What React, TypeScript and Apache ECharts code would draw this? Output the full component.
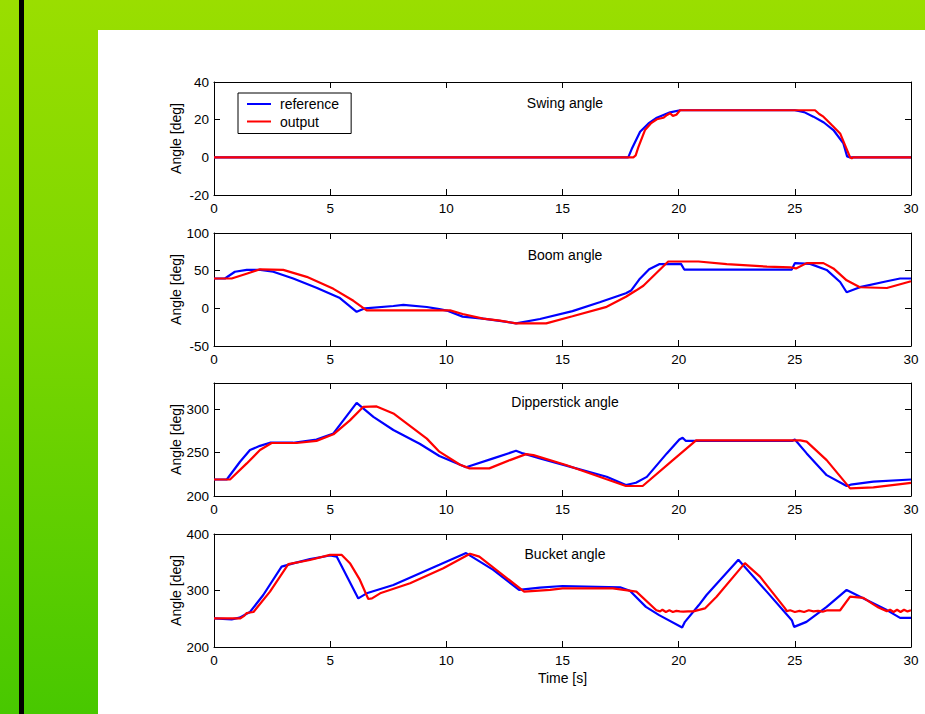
import React, { useEffect, useRef } from "react";
import * as echarts from "echarts";

const FONT = '"Liberation Sans", Arial, Helvetica, sans-serif';

const plotTitles = ["Swing angle", "Boom angle", "Dipperstick angle", "Bucket angle"];
const seriesNames = ["reference", "output"];
const xLabel = "Time [s]";
const yLabel = "Angle [deg]";
const xRange = [0, 30, 5];
const yRanges = [
  [-20, 40, 20],
  [-50, 100, 50],
  [200, 330, 50],
  [200, 400, 100],
];

const swingReference = [
  [0, 0], [17.83, 0], [18.0, 5], [18.34, 13.6], [18.7, 18], [19.06, 21], [19.63, 23.9], [20.06, 25],
  [25.0, 25], [25.4, 24], [25.8, 21.6], [26.25, 18.5], [26.66, 14.5], [27.09, 7.4], [27.25, 0.5],
  [27.35, 0], [30, 0],
];
const swingOutput = [
  [0, 0], [18.05, 0], [18.15, 1], [18.27, 5.6], [18.55, 14.5], [18.8, 18], [19.06, 20.2], [19.34, 21],
  [19.5, 22.5], [19.63, 23.4], [19.75, 22], [19.9, 22.6], [20.06, 25], [25.87, 25], [26.05, 23],
  [26.23, 21.6], [26.6, 17], [26.95, 12.7], [27.16, 6.5], [27.38, 0], [27.45, -0.5], [27.5, 0], [30, 0],
];

const boomReference = [
  [0, 39.6], [0.47, 39.6], [0.9, 48.6], [1.41, 51], [2.0, 51], [2.55, 48.6], [3.41, 39.6], [4.41, 27.3],
  [5.42, 13.6], [6.14, -4.6], [6.5, 0], [7.72, 3.1], [8.15, 4.5], [9.16, 1.8], [9.7, -1], [10.02, -3],
  [10.7, -11], [11.58, -13.6], [12.45, -17.3], [13.0, -20], [14.03, -14.2], [15.43, -3.7], [16.6, 8],
  [17.73, 20], [17.95, 23.6], [18.3, 38.2], [18.73, 51.8], [19.16, 58.6], [20.1, 59], [20.24, 51.5],
  [24.87, 51.5], [25.0, 60], [25.66, 59], [26.37, 51], [26.95, 35], [27.23, 21.3], [27.8, 28.1],
  [28.96, 35.9], [29.53, 39.6], [30, 39.6],
];
const boomOutput = [
  [0, 39.6], [0.76, 39.6], [1.4, 46], [1.98, 51.8], [2.98, 51], [3.99, 41.8], [5.14, 25.9], [6.0, 10],
  [6.57, -2.7], [10.16, -2.7], [10.7, -7.5], [11.58, -13.6], [12.31, -16.3], [13.0, -20], [14.3, -20],
  [15.43, -10.5], [16.9, 2], [17.73, 15.4], [18.16, 23.6], [18.48, 30], [19.55, 62.2], [20.85, 62.2],
  [22.07, 58.6], [23.8, 55.4], [24.8, 54.5], [25.05, 53], [25.51, 60], [26.23, 60], [26.66, 53],
  [27.23, 37.2], [27.8, 28], [28.96, 27], [30, 36],
];

const dipperReference = [
  [0, 219], [0.55, 219], [1.12, 239.4], [1.55, 252.9], [1.98, 257.7], [2.41, 261.3], [3.41, 261.3],
  [4.41, 265], [5.14, 272], [6.14, 307.2], [6.86, 291], [7.72, 275.9], [8.87, 259.8], [9.7, 246],
  [10.85, 233], [12.02, 243.3], [13.0, 252], [13.3, 249], [14.03, 243.3], [15.43, 233], [16.9, 222.2],
  [17.73, 212.6], [18.16, 215.3], [18.63, 222], [19.49, 249], [20.03, 265], [20.17, 267], [20.3, 263.5],
  [24.9, 263.5], [25.0, 265], [25.51, 249], [26.37, 224], [27.23, 211.5], [27.4, 213], [28.38, 216.5],
  [30, 219],
];
const dipperOutput = [
  [0, 219], [0.69, 219], [1.41, 237.5], [1.98, 252.9], [2.48, 261], [3.55, 261], [4.41, 263.4],
  [5.14, 271], [5.85, 287], [6.43, 302.6], [7.0, 303], [7.72, 295], [9.16, 266], [9.7, 251],
  [10.59, 236], [11.0, 231.8], [11.85, 231.8], [12.74, 241.3], [13.43, 248.2], [13.75, 247],
  [15.15, 235.6], [16.87, 219.5], [17.73, 211.5], [18.45, 211.5], [19.75, 241.3], [20.75, 264],
  [25.23, 264], [25.51, 262.5], [26.37, 241.3], [27.38, 208.8], [28.38, 209.9], [30, 215],
];

const bucketReference = [
  [0, 250.5], [0.76, 249], [1.1, 252], [1.55, 262], [2.12, 292], [2.91, 342.3], [3.41, 348],
  [4.13, 355.5], [4.99, 362], [5.28, 360], [6.21, 286], [6.57, 295], [7.72, 309.8], [9.7, 345.4],
  [10.85, 366.2], [12.02, 336.5], [13.13, 301], [14.03, 305], [15.0, 308], [17.48, 305.7],
  [17.9, 299.6], [18.59, 271], [19.16, 256.4], [20.15, 234.5], [20.27, 244.5], [20.87, 274.2],
  [21.2, 292], [22.57, 354.3], [23.79, 298], [24.87, 247.5], [24.97, 235.6], [25.5, 244.5],
  [26.37, 271], [27.23, 301], [28.09, 283], [28.96, 265.3], [29.53, 251.6], [30, 251.6],
];
const bucketOutput = [
  [0, 250.5], [1.12, 250.5], [1.3, 255], [1.4, 260], [1.55, 261], [1.7, 262], [2.41, 298],
  [3.2, 346.6], [4.13, 354], [4.99, 363], [5.5, 363], [5.85, 348.4], [6.28, 318.7], [6.64, 285],
  [6.8, 286], [7.15, 295], [8.44, 312.8], [9.87, 339.5], [11.02, 365], [11.42, 360], [13.35, 298],
  [14.46, 301], [15.0, 303.9], [17.17, 303.9], [18.18, 298], [19.04, 265], [19.2, 263], [19.3, 266],
  [19.45, 262], [19.6, 265], [19.75, 262], [19.9, 264], [20.05, 263], [20.2, 262.5], [20.4, 263],
  [20.63, 263], [21.13, 268.3], [21.63, 289], [22.85, 348.4], [23.5, 324.6], [24.58, 268.3],
  [24.65, 263.5], [24.8, 265], [25.0, 262], [25.2, 264], [25.4, 262], [25.6, 265], [25.8, 263],
  [26.0, 264], [26.2, 262.5], [26.4, 265], [26.95, 265], [27.38, 289], [27.95, 287], [28.38, 275.4],
  [28.6, 270], [28.96, 263.5], [29.1, 266], [29.25, 262], [29.4, 266], [29.55, 262], [29.7, 266],
  [29.85, 263], [30, 265],
];

const plotData = [
  [swingReference, swingOutput],
  [boomReference, boomOutput],
  [dipperReference, dipperOutput],
  [bucketReference, bucketOutput],
];

const gridTops = [82, 233, 383, 534];
const gridHeight = 113;
const gridLeft = 214;
const gridRight = 14;
const titleY = [103, 255, 402, 554];
const lineColors = ["#0000ff", "#ff0000"];

export default function App() {
  const ref = useRef<HTMLDivElement>(null);

  useEffect(() => {
    if (!ref.current) return;
    const chart = echarts.init(ref.current, undefined, { renderer: "svg" });

    const grids: any[] = [];
    const xAxes: any[] = [];
    const yAxes: any[] = [];
    const series: any[] = [];
    const graphics: any[] = [];

    const axisCommon = {
      type: "value",
      splitLine: { show: false },
      axisLine: { show: true, onZero: false, lineStyle: { color: "#000", width: 1 } },
      axisTick: { show: true, inside: true, length: 6, lineStyle: { color: "#000", width: 1 } },
    };
    const labelStyle = { color: "#000", fontSize: 13.5, fontFamily: FONT };

    for (let i = 0; i < 4; i++) {
      grids.push({ left: gridLeft, right: gridRight, top: gridTops[i], height: gridHeight });
      const [ymin, ymax, yint] = yRanges[i];
      xAxes.push({
        ...axisCommon,
        gridIndex: i,
        position: "bottom",
        min: xRange[0],
        max: xRange[1],
        interval: xRange[2],
        axisLabel: { ...labelStyle, margin: 6 },
        ...(i === 3
          ? {
              name: xLabel,
              nameLocation: "middle",
              nameGap: 24,
              nameMoveOverlap: false,
              nameTextStyle: { color: "#000", fontSize: 14, fontFamily: FONT },
            }
          : {}),
      });
      xAxes.push({
        ...axisCommon,
        gridIndex: i,
        position: "top",
        min: xRange[0],
        max: xRange[1],
        interval: xRange[2],
        axisLabel: { show: false },
      });
      yAxes.push({
        ...axisCommon,
        gridIndex: i,
        position: "left",
        min: ymin,
        max: ymax,
        interval: yint,
        axisLabel: { ...labelStyle, margin: 5, showMaxLabel: i !== 2 },
        name: yLabel,
        nameLocation: "middle",
        nameGap: 31,
        nameMoveOverlap: false,
        nameRotate: 90,
        nameTextStyle: { color: "#000", fontSize: 14, fontFamily: FONT },
      });
      yAxes.push({
        ...axisCommon,
        gridIndex: i,
        position: "right",
        min: ymin,
        max: ymax,
        interval: yint,
        axisLabel: { show: false },
      });
      for (let s = 0; s < 2; s++) {
        series.push({
          type: "line",
          name: seriesNames[s],
          xAxisIndex: 2 * i,
          yAxisIndex: 2 * i,
          data: plotData[i][s],
          symbol: "none",
          showSymbol: false,
          lineStyle: { color: lineColors[s], width: 2.2 },
          itemStyle: { color: lineColors[s] },
          z: 2 + s,
        });
      }
      graphics.push({
        type: "text",
        x: 565,
        y: titleY[i],
        style: {
          text: plotTitles[i],
          fill: "#000",
          font: `14px ${FONT}`,
          textAlign: "center",
          textVerticalAlign: "middle",
        },
      });
    }

    chart.setOption({
      animation: false,
      backgroundColor: "transparent",
      grid: grids,
      xAxis: xAxes,
      yAxis: yAxes,
      series,
      graphic: graphics,
      legend: {
        data: seriesNames.map((n, k) => ({ name: n, icon: "rect", itemStyle: { color: lineColors[k] } })),
        orient: "vertical",
        left: 238,
        top: 93,
        itemWidth: 24,
        itemHeight: 2,
        itemGap: 3.5,
        padding: [4, 12, 5, 9],
        backgroundColor: "#fff",
        borderColor: "#000",
        borderWidth: 1,
        borderRadius: 0,
        textStyle: { color: "#000", fontSize: 14, fontFamily: FONT, padding: [0, 0, 0, 4] },
      },
    });

    return () => chart.dispose();
  }, []);

  return (
    <div
      style={{
        position: "fixed",
        left: 0,
        top: 0,
        width: 925,
        height: 714,
        overflow: "hidden",
        background: "linear-gradient(to bottom, #9ade00 0%, #7ad600 45%, #48c800 100%)",
      }}
    >
      <div style={{ position: "absolute", left: 19, top: 0, width: 5, height: 714, background: "#000" }} />
      <div style={{ position: "absolute", left: 98, top: 30, width: 827, height: 684, background: "#fff" }} />
      <div ref={ref} style={{ position: "absolute", left: 0, top: 0, width: 925, height: 714 }} />
    </div>
  );
}
